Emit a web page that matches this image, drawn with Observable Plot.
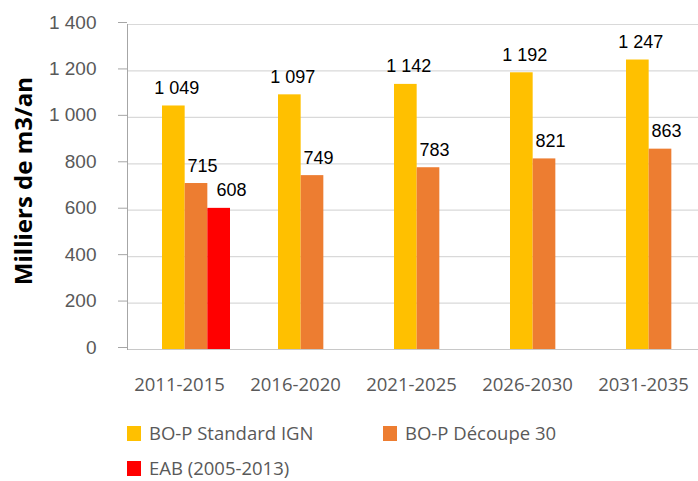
<!DOCTYPE html>
<html>
<head>
<meta charset="utf-8">
<script src="https://cdn.jsdelivr.net/npm/d3@7"></script>
<script src="https://cdn.jsdelivr.net/npm/@observablehq/plot@0.6"></script>
<style>
  html, body { margin: 0; padding: 0; background: #fff; }
  #wrap { position: relative; width: 698px; height: 481px; overflow: hidden; }
  #legend { position: absolute; left: 127px; top: 424px; display: grid;
    grid-template-columns: 256px 256px; grid-auto-rows: 19px; row-gap: 16px;
    font-family: "Open Sans", sans-serif; font-size: 18.5px; line-height: 1; color: #595959; }
  .item { display: flex; align-items: center; white-space: nowrap; height: 19px; }
  .sw { width: 14px; height: 15px; margin-right: 8px; flex: none; }
</style>
</head>
<body>
<div id="wrap"><div id="chart"></div><div id="legend"></div></div>
<script>
const periods = ["2011-2015", "2016-2020", "2021-2025", "2026-2030", "2031-2035"];
const series = ["BO-P Standard IGN", "BO-P Découpe 30", "EAB (2005-2013)"];
const standardIGN = [1049, 1097, 1142, 1192, 1247];
const decoupe30 = [715, 749, 783, 821, 863];
const eab = [608, null, null, null, null];
const yTicks = [0, 200, 400, 600, 800, 1000, 1200, 1400];
const colors = ["#FFC000", "#ED7D31", "#FF0000"];

const values = [standardIGN, decoupe30, eab];
const rows = [];
series.forEach((s, si) => periods.forEach((p, pi) => {
  if (values[si][pi] != null) rows.push({period: p, series: s, value: values[si][pi]});
}));

const fmt = d => d3.format(",")(d).replace(/,/g, "\u00a0");
const bw = 68, w = bw / 3;
const insets = [[0, bw - w], [w, w], [bw - w, 0]];
const labelDx = [-19.7, 6, 35];

const marks = [
  Plot.ruleY(yTicks.slice(1), {y: d => d, stroke: "#D9D9D9", strokeWidth: 1.2}),
  Plot.ruleY([0], {y: d => d, stroke: "#C8C8C8", strokeWidth: 1.2}),
  Plot.frame({anchor: "left", stroke: "#A6A6A6"}),
  Plot.axisY({ticks: yTicks, tickSize: 9, tickPadding: 22, tickFormat: fmt,
    stroke: "#A6A6A6", fill: "#595959", fontSize: 19, fontFamily: "Liberation Sans, Arial, sans-serif",
    dy: -2, label: null}),
  Plot.axisX({tickSize: 0, tickPadding: 28, dx: -17, fill: "#595959", fontSize: 18.5,
    fontFamily: "Open Sans, sans-serif", label: null}),
  Plot.text(["Milliers de m3/an"], {text: d => d, frameAnchor: "left", textAnchor: "middle",
    lineAnchor: "middle", rotate: -90,
    dx: -103, dy: -6, fontSize: 24, fontWeight: "bold", fill: "#000",
    fontFamily: "Open Sans, sans-serif"})
];
series.forEach((s, si) => {
  const data = rows.filter(r => r.series === s);
  marks.push(Plot.barY(data, {x: "period", y: "value", fill: "series",
    insetLeft: insets[si][0], insetRight: insets[si][1]}));
  marks.push(Plot.text(data, {x: "period", y: "value", text: d => fmt(d.value),
    dx: labelDx[si], dy: -12, lineAnchor: "bottom", fontSize: 18, fill: "#000",
    fontFamily: "Liberation Sans, Arial, sans-serif"}));
});

const chart = Plot.plot({
  width: 698, height: 405,
  marginLeft: 127, marginRight: 0, marginTop: 24, marginBottom: 56,
  x: {type: "band", domain: periods, paddingInner: 0.415, paddingOuter: 0.1635, align: 0.895, axis: null},
  y: {domain: [0, 1400], axis: null},
  color: {domain: series, range: colors},
  style: {fontFamily: "Liberation Sans, Arial, sans-serif", overflow: "visible"},
  marks
});
document.getElementById("chart").appendChild(chart);

const legend = document.getElementById("legend");
series.forEach((s, i) => {
  const it = document.createElement("div");
  it.className = "item";
  const sw = document.createElement("span");
  sw.className = "sw"; sw.style.background = colors[i];
  const t = document.createElement("span");
  t.textContent = s;
  it.appendChild(sw); it.appendChild(t);
  legend.appendChild(it);
});
</script>
</body>
</html>
